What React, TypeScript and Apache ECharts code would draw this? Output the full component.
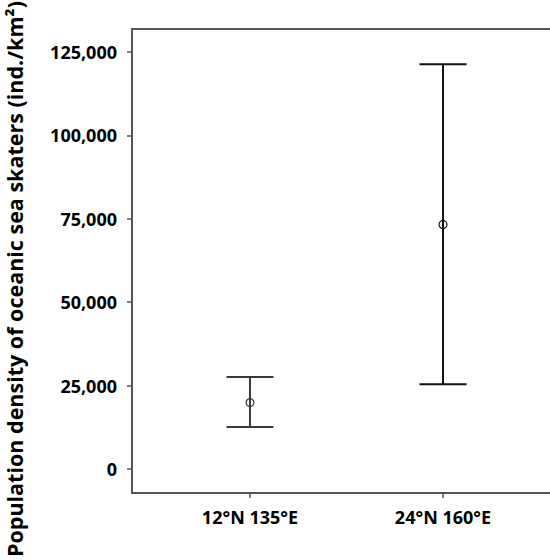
import React, { useEffect, useRef } from "react";
import * as echarts from "echarts";

const categories = ["12°N 135°E", "24°N 160°E"];
const positions = [1, 2];
const means = [19900, 73300];
const lowers = [12600, 25400];
const uppers = [27600, 121300];
const barColors = ["#3a3a3a", "#111111"];
const yTicks = [0, 25000, 50000, 75000, 100000, 125000];
const yName = "Population density of oceanic sea skaters (ind./km²)";

export default function App() {
  const ref = useRef<HTMLDivElement>(null);
  useEffect(() => {
    if (!ref.current) return;
    const chart = echarts.init(ref.current, undefined, { renderer: "svg" });
    const data = positions.map((p, i) => [p, means[i], lowers[i], uppers[i], i]);
    const font = "'Open Sans', sans-serif";
    const axisColor = "#555555";
    chart.setOption({
      animation: false,
      backgroundColor: "#ffffff",
      grid: {
        left: 132,
        top: 29,
        width: 418,
        bottom: 67,
        outerBoundsMode: "none",
        containLabel: false,
        show: false,
      },
      xAxis: [
        {
          type: "value",
          min: 0.3886,
          max: 2.5544,
          splitLine: { show: false },
          axisLine: { show: true, onZero: false, lineStyle: { color: axisColor, width: 2 } },
          axisTick: {
            show: true,
            customValues: positions,
            length: 5,
            lineStyle: { color: axisColor, width: 1.5 },
          },
          axisLabel: {
            customValues: positions,
            margin: 15,
            fontFamily: font,
            fontWeight: "bold",
            fontSize: 18,
            color: "#000",
            formatter: (v: number) => {
              const idx = positions.indexOf(Math.round(v));
              return idx >= 0 ? categories[idx] : "";
            },
          },
        },
        {
          type: "value",
          position: "top",
          min: 0.3886,
          max: 2.5544,
          splitLine: { show: false },
          axisLine: { show: true, onZero: false, lineStyle: { color: axisColor, width: 2 } },
          axisTick: { show: false },
          axisLabel: { show: false },
        },
      ],
      yAxis: {
        type: "value",
        min: -7200,
        max: 131900,
        splitLine: { show: false },
        axisLine: { show: true, onZero: false, lineStyle: { color: axisColor, width: 2 } },
        axisTick: {
          show: true,
          customValues: yTicks,
          length: 5,
          lineStyle: { color: axisColor, width: 1.5 },
        },
        axisLabel: {
          customValues: yTicks,
          margin: 15,
          fontFamily: font,
          fontWeight: "bold",
          fontSize: 18,
          color: "#000",
          formatter: (v: number) => v.toLocaleString("en-US"),
        },
      },
      graphic: [
        {
          type: "text",
          x: 14,
          y: 279,
          rotation: Math.PI / 2,
          style: {
            text: yName,
            fontFamily: font,
            fontWeight: "bold",
            fontSize: 21.5,
            fill: "#000",
            align: "center",
            verticalAlign: "middle",
          },
        },
      ],
      series: [
        {
          type: "custom",
          xAxisIndex: 0,
          data,
          encode: { x: 0, y: [1, 2, 3] },
          renderItem: (params: any, api: any) => {
            const x = api.value(0);
            const m = api.coord([x, api.value(1)]);
            const lo = api.coord([x, api.value(2)]);
            const hi = api.coord([x, api.value(3)]);
            const color = barColors[api.value(4)];
            const hw = 23.5;
            const ls = { stroke: color, lineWidth: 2 };
            return {
              type: "group",
              children: [
                { type: "line", shape: { x1: lo[0], y1: lo[1], x2: hi[0], y2: hi[1] }, style: ls },
                { type: "line", shape: { x1: hi[0] - hw, y1: hi[1], x2: hi[0] + hw, y2: hi[1] }, style: ls },
                { type: "line", shape: { x1: lo[0] - hw, y1: lo[1], x2: lo[0] + hw, y2: lo[1] }, style: ls },
                { type: "circle", shape: { cx: m[0], cy: m[1], r: 4 }, style: { stroke: color, fill: "none", lineWidth: 1.2 } },
              ],
            };
          },
        },
      ],
    });
    return () => chart.dispose();
  }, []);
  return (
    <div
      ref={ref}
      style={{ position: "fixed", left: 0, top: 0, width: 550, height: 560 }}
    />
  );
}
